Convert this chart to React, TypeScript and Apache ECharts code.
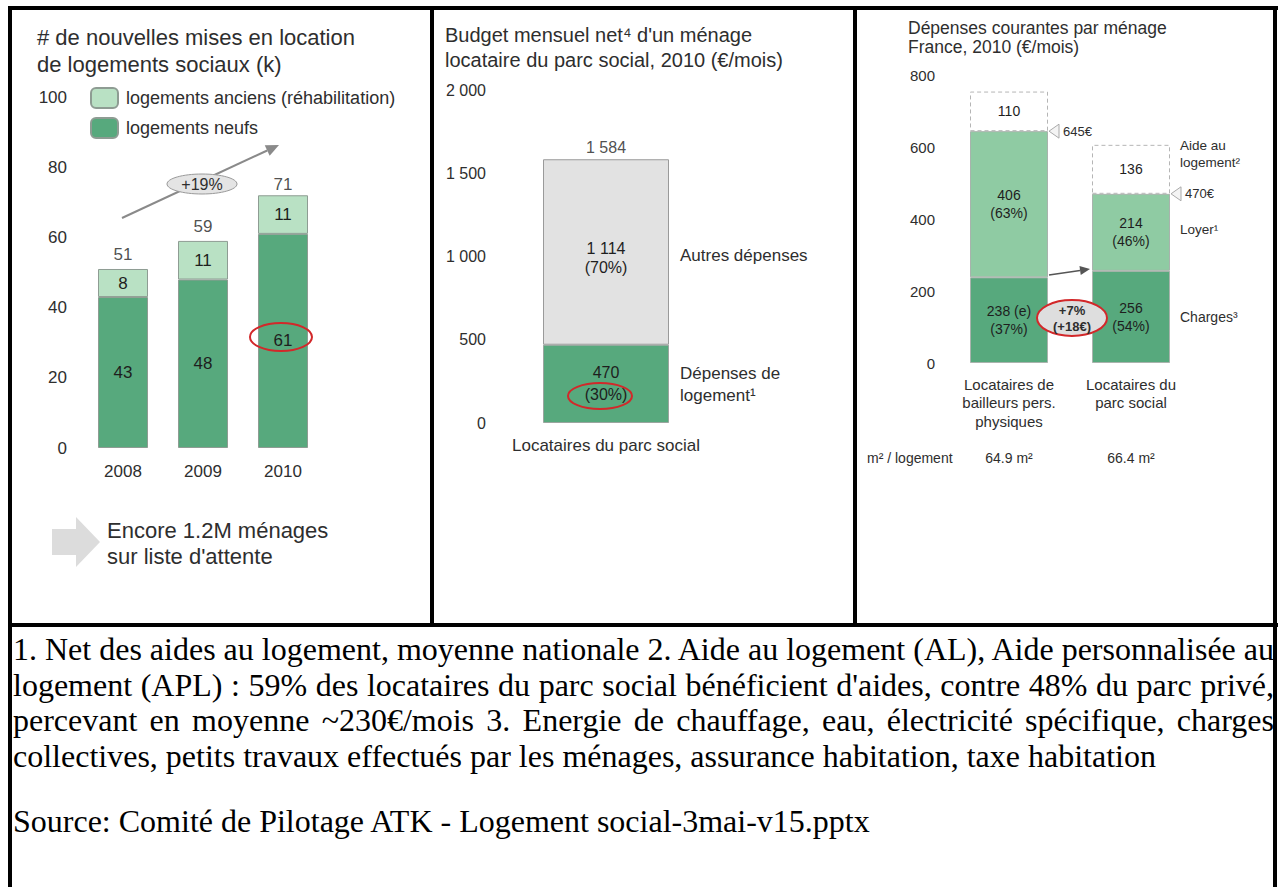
import React, { useEffect, useRef } from "react";
import * as echarts from "echarts";

// Panel 1
const years = ["2008", "2009", "2010"];
const neufs = [43, 48, 61];
const anciens = [8, 11, 11];
const totals1 = [51, 59, 71];
const p1Ticks = { min: 0, max: 100, interval: 20 };

// Panel 2
const p2Cat = ["Locataires du parc social"];
const logement2 = [470];
const autres2 = [1114];
const total2 = [1584];
const p2Ticks = { min: 0, max: 2000, interval: 500 };

// Panel 3
const p3Cats = ["Locataires de\nbailleurs pers.\nphysiques", "Locataires du\nparc social"];
const charges3 = [238, 256];
const chargesNote = [" (e)", ""];
const loyer3 = [406, 214];
const aide3 = [110, 136];
const totalLabels3 = ["645€", "470€"];
const surfaces3 = ["64.9 m²", "66.4 m²"];
const p3Ticks = { min: 0, max: 800, interval: 200 };

// Footnote lines
const noteLines = [
  "1. Net des aides au logement, moyenne nationale 2. Aide au logement (AL), Aide personnalisée au",
  "logement (APL) : 59% des locataires du parc social bénéficient d'aides, contre 48% du parc privé,",
  "percevant en moyenne ~230€/mois 3. Energie de chauffage, eau, électricité spécifique, charges",
  "collectives, petits travaux effectués par les ménages, assurance habitation, taxe habitation",
];
const sourceLine = "Source: Comité de Pilotage ATK - Logement social-3mai-v15.pptx";

const FONT = "'Liberation Sans', Arial, Helvetica, sans-serif";
const DARK = "#57a97d";
const LIGHT1 = "#b9e1c4";
const MID3 = "#8fcba3";
const GREYBAR = "#e2e2e2";
const TXT = "#2e2e2e";
const RED = "#d2282a";

const fmt = (v: number) =>
  v >= 1000 ? `${Math.floor(v / 1000)} ${String(v % 1000).padStart(3, "0")}` : `${v}`;

function txt(x: number, y: number, text: string, fontSize: number, extra: any = {}) {
  const { align = "left", lineHeight, fontWeight = "normal", fill = TXT } = extra;
  return {
    type: "text",
    x,
    y,
    z: 100,
    silent: true,
    style: {
      text,
      fontSize,
      fontFamily: FONT,
      fontWeight,
      fill,
      lineHeight: lineHeight || Math.round(fontSize * 1.2),
      align,
      textAlign: align,
      verticalAlign: "middle",
      textVerticalAlign: "middle",
    },
  };
}

function arrow(x1: number, y1: number, x2: number, y2: number, color: string, w: number, head: number) {
  const dx = x2 - x1;
  const dy = y2 - y1;
  const L = Math.sqrt(dx * dx + dy * dy);
  const ux = dx / L;
  const uy = dy / L;
  const px = -uy;
  const py = ux;
  const bx = x2 - ux * head;
  const by = y2 - uy * head;
  const hw = head * 0.45;
  return [
    {
      type: "line",
      z: 100,
      silent: true,
      shape: { x1, y1, x2: bx, y2: by },
      style: { stroke: color, lineWidth: w },
    },
    {
      type: "polygon",
      z: 100,
      silent: true,
      shape: {
        points: [
          [x2, y2],
          [bx + px * hw, by + py * hw],
          [bx - px * hw, by - py * hw],
        ],
      },
      style: { fill: color },
    },
  ];
}

function axisCommon(fontSize: number, margin: number) {
  return {
    axisLine: { show: false },
    axisTick: { show: false },
    splitLine: { show: false },
    axisLabel: { fontSize, color: TXT, fontFamily: FONT, margin },
  };
}

export default function App() {
  const ref = useRef<HTMLDivElement>(null);

  useEffect(() => {
    if (!ref.current) return;
    const chart = echarts.init(ref.current, undefined, { renderer: "svg" });

    const pct3 = (a: number[], i: number) => Math.round((a[i] / (charges3[i] + loyer3[i])) * 100);
    const pct2 = (v: number) => Math.round((v / total2[0]) * 100);

    const option: any = {
      animation: false,
      textStyle: { fontFamily: FONT, color: TXT },
      legend: {
        show: true,
        orient: "vertical",
        left: 90,
        top: 87,
        padding: 0,
        itemWidth: 27,
        itemHeight: 20,
        itemGap: 8,
        selectedMode: false,
        data: ["logements anciens (réhabilitation)", "logements neufs"],
        textStyle: { fontSize: 18, color: TXT, fontFamily: FONT, padding: [0, 0, 0, 3] },
      },
      grid: [
        { left: 83, top: 97, width: 240, height: 351 },
        { left: 506, top: 90, width: 200, height: 333 },
        { left: 948, top: 75, width: 244, height: 288 },
      ],
      xAxis: [
        { gridIndex: 0, type: "category", data: years, ...axisCommon(17, 15) },
        { gridIndex: 1, type: "category", data: p2Cat, ...axisCommon(17, 14) },
        {
          gridIndex: 2,
          type: "category",
          data: p3Cats,
          ...axisCommon(15, 12),
          axisLabel: { fontSize: 15, color: TXT, fontFamily: FONT, margin: 12, lineHeight: 18.5, interval: 0 },
        },
      ],
      yAxis: [
        { gridIndex: 0, type: "value", ...p1Ticks, ...axisCommon(17, 16) },
        {
          gridIndex: 1,
          type: "value",
          ...p2Ticks,
          ...axisCommon(16, 20),
          axisLabel: { fontSize: 16, color: TXT, fontFamily: FONT, margin: 20, formatter: (v: number) => fmt(v) },
        },
        { gridIndex: 2, type: "value", ...p3Ticks, ...axisCommon(15, 13) },
      ],
      series: [
        // Panel 1
        {
          name: "logements neufs",
          type: "bar",
          stack: "p1",
          xAxisIndex: 0,
          yAxisIndex: 0,
          barWidth: 50,
          data: neufs,
          itemStyle: { color: DARK, borderColor: "#8e9c93", borderWidth: 1 },
          label: { show: true, position: "inside", fontSize: 17, color: "#1e1e1e", fontFamily: FONT },
        },
        {
          name: "logements anciens (réhabilitation)",
          type: "bar",
          stack: "p1",
          xAxisIndex: 0,
          yAxisIndex: 0,
          barWidth: 50,
          data: anciens,
          itemStyle: { color: LIGHT1, borderColor: "#8e9c93", borderWidth: 1 },
          label: { show: true, position: "inside", fontSize: 17, color: "#1e1e1e", fontFamily: FONT },
        },
        {
          name: "total1",
          type: "scatter",
          xAxisIndex: 0,
          yAxisIndex: 0,
          data: totals1,
          symbolSize: 1,
          itemStyle: { color: "rgba(0,0,0,0)" },
          label: { show: true, position: "top", distance: 5, fontSize: 17, color: "#222", fontFamily: FONT },
        },
        // Panel 2
        {
          name: "Dépenses de logement",
          type: "bar",
          stack: "p2",
          xAxisIndex: 1,
          yAxisIndex: 1,
          barWidth: 126,
          data: logement2,
          itemStyle: { color: DARK, borderColor: "#9aa59f", borderWidth: 1 },
          label: {
            show: true,
            position: "inside",
            fontSize: 16,
            lineHeight: 22,
            color: "#1e1e1e",
            fontFamily: FONT,
            formatter: (p: any) => `${fmt(p.value)}\n(${pct2(p.value)}%)`,
          },
        },
        {
          name: "Autres dépenses",
          type: "bar",
          stack: "p2",
          xAxisIndex: 1,
          yAxisIndex: 1,
          barWidth: 126,
          data: autres2,
          itemStyle: { color: GREYBAR, borderColor: "#9a9a9a", borderWidth: 1 },
          label: {
            show: true,
            position: "inside",
            fontSize: 16,
            lineHeight: 19,
            color: "#1e1e1e",
            fontFamily: FONT,
            offset: [0, 6],
            formatter: (p: any) => `${fmt(p.value)}\n(${pct2(p.value)}%)`,
          },
        },
        {
          name: "total2",
          type: "scatter",
          xAxisIndex: 1,
          yAxisIndex: 1,
          data: total2,
          symbolSize: 1,
          itemStyle: { color: "rgba(0,0,0,0)" },
          label: {
            show: true,
            position: "top",
            distance: 3,
            fontSize: 16,
            color: "#222",
            fontFamily: FONT,
            formatter: (p: any) => fmt(p.value),
          },
        },
        // Panel 3
        {
          name: "Charges",
          type: "bar",
          stack: "p3",
          xAxisIndex: 2,
          yAxisIndex: 2,
          barWidth: 78,
          data: charges3,
          itemStyle: { color: DARK, borderColor: "#a9b3ad", borderWidth: 1 },
          label: {
            show: true,
            position: "inside",
            fontSize: 14,
            lineHeight: 18,
            color: "#1e1e1e",
            fontFamily: FONT,
            formatter: (p: any) => `${p.value}${chargesNote[p.dataIndex]}\n(${pct3(charges3, p.dataIndex)}%)`,
          },
        },
        {
          name: "Loyer",
          type: "bar",
          stack: "p3",
          xAxisIndex: 2,
          yAxisIndex: 2,
          barWidth: 78,
          data: loyer3,
          itemStyle: { color: MID3, borderColor: "#a9b3ad", borderWidth: 1 },
          label: {
            show: true,
            position: "inside",
            fontSize: 14,
            lineHeight: 18,
            color: "#1e1e1e",
            fontFamily: FONT,
            formatter: (p: any) => `${p.value}\n(${pct3(loyer3, p.dataIndex)}%)`,
          },
        },
        {
          name: "Aide au logement",
          type: "bar",
          stack: "p3",
          xAxisIndex: 2,
          yAxisIndex: 2,
          barWidth: 78,
          data: aide3,
          itemStyle: { color: "#ffffff", borderColor: "#b5b5b5", borderWidth: 1, borderType: [4, 3] },
          label: { show: true, position: "inside", fontSize: 14, color: "#1e1e1e", fontFamily: FONT },
        },
      ],
    };

    chart.setOption(option);

    const p3px = (i: number, v: number) => chart.convertToPixel({ xAxisIndex: 2, yAxisIndex: 2 }, [i, v]) as number[];
    const graphics: any[] = [];

    // Titles
    graphics.push(txt(37, 50.5, "# de nouvelles mises en location\nde logements sociaux (k)", 22, { lineHeight: 27 }));
    graphics.push(
      txt(445, 47, "Budget mensuel net⁴ d'un ménage\nlocataire du parc social, 2010 (€/mois)", 20, { lineHeight: 25 })
    );
    graphics.push(txt(908, 37, "Dépenses courantes par ménage\nFrance, 2010 (€/mois)", 17.5, { lineHeight: 19 }));

    // Panel 1 annotations
    graphics.push(...arrow(122, 218, 279, 145, "#8a8a8a", 2, 13));
    graphics.push({
      type: "ellipse",
      z: 100,
      silent: true,
      shape: { cx: 202, cy: 184, rx: 35, ry: 10 },
      style: { fill: "#e4e4e4", stroke: "#9a9a9a", lineWidth: 1 },
    });
    graphics.push(txt(202, 184, "+19%", 16, { align: "center" }));
    graphics.push({
      type: "ellipse",
      z: 100,
      silent: true,
      shape: { cx: 281, cy: 337, rx: 31, ry: 14 },
      style: { fill: "none", stroke: RED, lineWidth: 2 },
    });
    graphics.push({
      type: "polygon",
      z: 100,
      silent: true,
      shape: {
        points: [
          [52, 529],
          [76, 529],
          [76, 517],
          [100, 542],
          [76, 567],
          [76, 555],
          [52, 555],
        ],
      },
      style: { fill: "#dcdcdc" },
    });
    graphics.push(txt(107, 543, "Encore 1.2M ménages\nsur liste d'attente", 22, { lineHeight: 26 }));

    // Panel 2 annotations
    graphics.push(txt(680, 255, "Autres dépenses", 17));
    graphics.push(txt(680, 384, "Dépenses de\nlogement¹", 17, { lineHeight: 22 }));
    graphics.push({
      type: "ellipse",
      z: 100,
      silent: true,
      shape: { cx: 600, cy: 396, rx: 32, ry: 13 },
      style: { fill: "none", stroke: RED, lineWidth: 2 },
    });

    // Panel 3 annotations
    for (let i = 0; i < 2; i++) {
      const top = p3px(i, charges3[i] + loyer3[i]);
      const xr = top[0] + 39;
      graphics.push({
        type: "polygon",
        z: 100,
        silent: true,
        shape: {
          points: [
            [xr + 1, top[1]],
            [xr + 11, top[1] - 7],
            [xr + 11, top[1] + 7],
          ],
        },
        style: { fill: "#f4f4f4", stroke: "#aaaaaa", lineWidth: 1 },
      });
      graphics.push(txt(xr + 15, top[1], totalLabels3[i], 13));
      graphics.push(txt(top[0], 458, surfaces3[i], 14, { align: "center" }));
    }
    graphics.push(txt(867, 458, "m² / logement", 14));
    graphics.push(txt(1180, 154, "Aide au\nlogement²", 13.5, { lineHeight: 17 }));
    graphics.push(txt(1180, 229, "Loyer¹", 13.5));
    graphics.push(txt(1180, 317, "Charges³", 14));
    graphics.push(...arrow(1049, 275, 1090, 269, "#555555", 1.5, 10));
    graphics.push({
      type: "ellipse",
      z: 100,
      silent: true,
      shape: { cx: 1072, cy: 318, rx: 35, ry: 18 },
      style: { fill: "#dedede", stroke: RED, lineWidth: 2 },
    });
    graphics.push(txt(1072, 318, "+7%\n(+18€)", 13, { align: "center", lineHeight: 16, fontWeight: "bold" }));

    chart.setOption({ graphic: { elements: graphics } });

    return () => chart.dispose();
  }, []);

  const line = (l: number, t: number, w: number, h: number) => (
    <div style={{ position: "absolute", left: l, top: t, width: w, height: h, background: "#000" }} />
  );

  return (
    <div
      style={{
        position: "fixed",
        left: 0,
        top: 0,
        width: 1279,
        height: 887,
        background: "#fff",
        overflow: "hidden",
      }}
    >
      <div ref={ref} style={{ position: "absolute", left: 0, top: 0, width: 1279, height: 623 }} />
      {line(8, 6, 1270, 4)}
      {line(8, 6, 4, 900)}
      {line(1273, 6, 4, 900)}
      {line(430, 6, 4, 620)}
      {line(853, 6, 4, 620)}
      {line(8, 623, 1270, 4)}
      <div
        style={{
          position: "absolute",
          left: 13,
          top: 632,
          width: 1261,
          fontFamily: "'Liberation Serif', 'Times New Roman', serif",
          fontSize: 32,
          color: "#000",
          lineHeight: "35.5px",
        }}
      >
        {noteLines.map((t, i) => (
          <div
            key={i}
            style={{
              whiteSpace: "nowrap",
              textAlign: i < noteLines.length - 1 ? "justify" : "left",
              textAlignLast: i < noteLines.length - 1 ? "justify" : "left",
            }}
          >
            {t}
          </div>
        ))}
        <div style={{ marginTop: 30, whiteSpace: "nowrap" }}>{sourceLine}</div>
      </div>
    </div>
  );
}
